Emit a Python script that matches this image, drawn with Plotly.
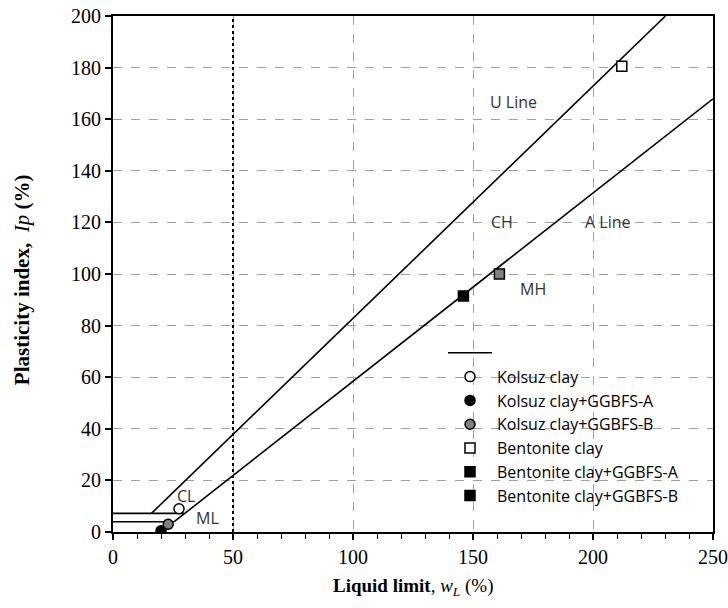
import plotly.graph_objects as go

# ---- data ----
kolsuz_x = [27.5]; kolsuz_y = [9.0]
kolsuz_a_x = [20.0]; kolsuz_a_y = [0.5]
kolsuz_b_x = [23.0]; kolsuz_b_y = [3.0]
bent_x = [212.0]; bent_y = [180.5]
bent_a_x = [146.0]; bent_a_y = [91.5]
bent_b_x = [161.0]; bent_b_y = [100.0]

# boundary lines (Casagrande chart)
u_line_x = [16.0, 230.2]; u_line_y = [7.2, 200.0]
a_line_x = [25.5, 250.0]; a_line_y = [4.0, 167.9]
h7_x = [0.0, 29.6]; h7_y = [7.2, 7.2]
h4_x = [0.0, 25.5]; h4_y = [4.0, 4.0]
ll50_x = [50, 50]; ll50_y = [0, 200]

labels = ["U Line", "CH", "A Line", "MH", "CL", "ML"]
label_x = [167, 162, 206, 175, 30.5, 39.5]
label_y = [166.5, 120, 120.3, 94, 14, 5.6]

x_ticks = [0, 50, 100, 150, 200, 250]
y_ticks = [0, 20, 40, 60, 80, 100, 120, 140, 160, 180, 200]

fig = go.Figure()
line_style = dict(color="black", width=1.6)
fig.add_trace(go.Scatter(x=u_line_x, y=u_line_y, mode="lines", line=line_style,
                         name=" ", legendgroup="g0", showlegend=True, hoverinfo="skip"))
fig.add_trace(go.Scatter(x=a_line_x, y=a_line_y, mode="lines", line=line_style,
                         showlegend=False, hoverinfo="skip"))
fig.add_trace(go.Scatter(x=h7_x, y=h7_y, mode="lines", line=line_style,
                         showlegend=False, hoverinfo="skip"))
fig.add_trace(go.Scatter(x=h4_x, y=h4_y, mode="lines", line=line_style,
                         showlegend=False, hoverinfo="skip"))
fig.add_trace(go.Scatter(x=ll50_x, y=ll50_y, mode="lines",
                         line=dict(color="black", width=2, dash="dot"),
                         showlegend=False, hoverinfo="skip"))

mk = 10
ol = dict(color="black", width=1.5)
fig.add_trace(go.Scatter(x=kolsuz_x, y=kolsuz_y, mode="markers", name="Kolsuz clay", legendgroup="g1",
                         marker=dict(symbol="circle", size=mk, color="white", line=ol)))
fig.add_trace(go.Scatter(x=kolsuz_a_x, y=kolsuz_a_y, mode="markers", name="Kolsuz clay+GGBFS-A", legendgroup="g2",
                         marker=dict(symbol="circle", size=mk, color="black", line=ol)))
fig.add_trace(go.Scatter(x=kolsuz_b_x, y=kolsuz_b_y, mode="markers", name="Kolsuz clay+GGBFS-B", legendgroup="g3",
                         marker=dict(symbol="circle", size=mk, color="#808080", line=ol)))
fig.add_trace(go.Scatter(x=bent_x, y=bent_y, mode="markers", name="Bentonite clay", legendgroup="g4",
                         marker=dict(symbol="square", size=mk, color="white", line=ol)))
fig.add_trace(go.Scatter(x=bent_a_x, y=bent_a_y, mode="markers", name="Bentonite clay+GGBFS-A", legendgroup="g5",
                         marker=dict(symbol="square", size=mk, color="black", line=ol)))
fig.add_trace(go.Scatter(x=bent_b_x, y=bent_b_y, mode="markers", name="Bentonite clay+GGBFS-B", legendgroup="g6",
                         showlegend=False,
                         marker=dict(symbol="square", size=mk, color="#808080", line=ol)))
fig.add_trace(go.Scatter(x=[None], y=[None], mode="markers", name="Bentonite clay+GGBFS-B", legendgroup="g6",
                         marker=dict(symbol="square", size=mk, color="black", line=ol)))

for t, x, y in zip(labels, label_x, label_y):
    fig.add_annotation(x=x, y=y, text=t, showarrow=False,
                       font=dict(family="Open Sans", size=16, color="#333333"))

# axis titles
fig.add_annotation(xref="paper", yref="paper", x=0.5, y=-0.107, xanchor="center", yanchor="middle",
                   text="<b>Liquid limit</b>, <i>w<sub>L</sub></i> (%)", showarrow=False,
                   font=dict(family="Liberation Serif", size=19, color="black"))
fig.add_annotation(xref="paper", yref="paper", x=-0.1517, y=0.49, xanchor="center", yanchor="middle",
                   textangle=-90,
                   text="<b>Plasticity index,</b>  <i>Ip</i> <b>(%)</b>", showarrow=False,
                   font=dict(family="Liberation Serif", size=21, color="black"))

tickfont = dict(family="Liberation Serif", size=20, color="black")
fig.update_xaxes(range=[0, 250], tickvals=x_ticks, tickfont=tickfont, automargin=False,
                 showgrid=True, gridcolor="#a0a0a0", griddash="dash", gridwidth=1,
                 showline=True, linecolor="black", linewidth=2, mirror=True,
                 ticks="outside", ticklen=6, tickwidth=1.5, tickcolor="black",
                 minor=dict(dtick=10, ticks="outside", ticklen=5, tickwidth=1.2, tickcolor="black", showgrid=False),
                 zeroline=False)
fig.update_yaxes(range=[0, 200], tickvals=y_ticks, tickfont=tickfont, automargin=False,
                 showgrid=True, gridcolor="#a0a0a0", griddash="dash", gridwidth=1,
                 showline=True, linecolor="black", linewidth=2, mirror=True,
                 ticks="outside", ticklen=6, tickwidth=1.5, tickcolor="black",
                 zeroline=False)

fig.update_layout(
    width=728, height=608,
    margin=dict(l=113, r=15, t=16, b=76),
    plot_bgcolor="white", paper_bgcolor="white",
    legend=dict(x=0.55, y=0.38, xanchor="left", yanchor="top", itemwidth=44,
                font=dict(family="Open Sans", size=16, color="black"),
                bgcolor="rgba(255,255,255,0)", traceorder="grouped", tracegroupgap=0),
)

fig.write_html("out.html", config={"displayModeBar": False},
               post_script="document.body.style.margin='0';")
